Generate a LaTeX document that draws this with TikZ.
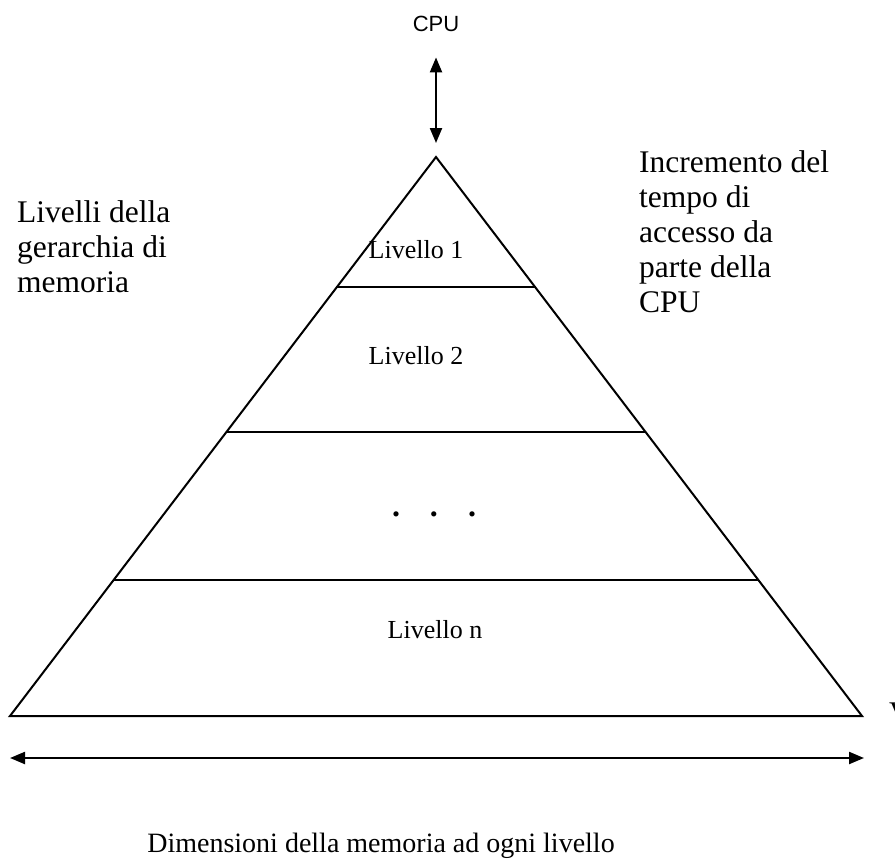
\documentclass[tikz,border=0pt]{standalone}
\usepackage{fontspec}
\setmainfont{Liberation Serif}
\newfontfamily\cpufont{Liberation Sans}
\usetikzlibrary{arrows.meta,calc}

\begin{document}
\begin{tikzpicture}[x=1pt,y=-1pt,
    level/.style={font=\fontsize{26}{30}\selectfont,inner sep=0pt,anchor=base},
    note/.style={font=\fontsize{31.5}{35}\selectfont,align=left,inner sep=0pt,anchor=north west},
    biarrow/.style={{Triangle[length=15pt,width=12pt]}-{Triangle[length=15pt,width=12pt]},line width=2.2pt},
    edge/.style={line width=2pt}]
    \useasboundingbox (0,0) rectangle (895,859);
    % pyramid
    \coordinate (apex) at (436,157);
    \coordinate (bl) at (10,716);
    \coordinate (br) at (862,716);
    \draw[edge,line join=miter] (apex) -- (br) -- (bl) -- cycle;
    \foreach \t in {0.2326,0.492,0.757}
        \draw[edge] ($(apex)!\t!(bl)$) -- ($(apex)!\t!(br)$);
    % levels
    \node[level] (lev1) at (416,258) {Livello 1};
    \node[level] (lev2) at (416,364) {Livello 2};
    \node[level,font=\bfseries\fontsize{32}{32}\selectfont] (levdots) at (434,516) {.\hspace{30pt}.\hspace{30pt}.};
    \node[level] (levn) at (435,638) {Livello n};
    % cpu
    \node[font=\cpufont\fontsize{22}{26}\selectfont,inner sep=0pt,anchor=base] (cpu) at (436,32) {CPU};
    \draw[biarrow,shorten <=25pt,shorten >=14pt] (cpu.south) -- (apex);
    % side texts
    \node[note] (levels) at (17,200.5) {Livelli della\\gerarchia di\\memoria};
    \node[note] (access) at (639,150.5) {Incremento del\\tempo di\\accesso da\\parte della\\CPU};
    \node[font=\fontsize{30}{30}\selectfont,anchor=base west,inner sep=0pt] (cut) at (889,722) {V};
    % size
    \coordinate (sizeL) at (10,758);
    \coordinate (sizeR) at (864,758);
    \draw[biarrow] (sizeL) -- (sizeR);
    \node[font=\fontsize{28}{30}\selectfont,inner sep=0pt,anchor=base] (size) at (381,852) {Dimensioni della memoria ad ogni livello};
\end{tikzpicture}
\end{document}
